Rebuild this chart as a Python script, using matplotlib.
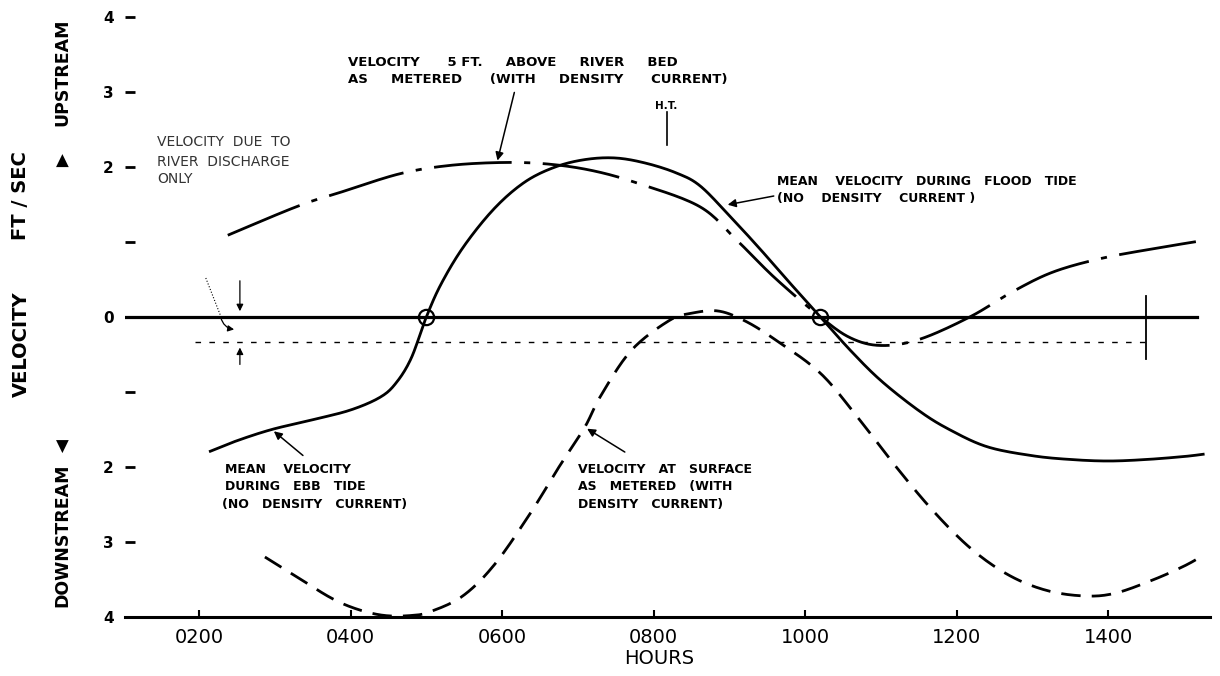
import numpy as np
import matplotlib
matplotlib.use('Agg')
import matplotlib.pyplot as plt

# hours on the x axis, velocity (ft/sec) on the y axis, + = upstream
solid_hours = [2.15, 2.5, 2.96, 3.5, 4.0, 4.39, 4.6, 4.8, 5.0, 5.2, 5.5, 5.9, 6.3,
               6.7, 7.1, 7.5, 7.9, 8.3, 8.61, 9.0, 9.4, 9.8, 10.2, 10.6, 11.0, 11.5,
               11.9, 12.4, 13.0, 13.5, 14.0, 14.5, 15.0, 15.25]
solid_vel = [-1.79, -1.65, -1.5, -1.37, -1.24, -1.07, -0.88, -0.55, 0.0, 0.45, 0.95, 1.45, 1.8,
             2.0, 2.1, 2.12, 2.05, 1.92, 1.75, 1.35, 0.91, 0.45, 0.0, -0.45, -0.85, -1.25,
             -1.5, -1.73, -1.85, -1.9, -1.92, -1.9, -1.86, -1.83]

bed_hours = [2.38, 3.31, 3.89, 4.65, 5.3, 6.0, 6.6, 7.2, 7.8, 8.61, 9.1, 9.6, 10.2,
             10.6, 11.0, 11.5, 12.17, 12.74, 13.27, 13.9, 14.59, 15.25]
bed_vel = [1.09, 1.48, 1.67, 1.91, 2.02, 2.06, 2.04, 1.95, 1.78, 1.47, 1.02, 0.52, 0.0,
           -0.28, -0.38, -0.3, 0.0, 0.34, 0.6, 0.78, 0.91, 1.02]

surf_hours = [2.87, 3.3, 3.75, 4.1, 4.45, 4.8, 5.05, 5.48, 5.9, 6.37, 6.75, 7.09, 7.29,
              7.7, 8.2, 8.5, 8.85, 9.2, 9.6, 10.2, 10.7, 11.2, 11.7, 12.2, 12.7, 13.2,
              13.7, 14.1, 14.6, 15.0, 15.25]
surf_vel = [-3.2, -3.47, -3.75, -3.9, -3.98, -3.98, -3.93, -3.72, -3.3, -2.62, -2.0, -1.47, -1.07,
            -0.45, -0.05, 0.05, 0.08, -0.05, -0.3, -0.75, -1.35, -2.0, -2.6, -3.1, -3.45, -3.65,
            -3.72, -3.68, -3.5, -3.32, -3.18]

river_only_vel = -0.33
river_only_span = [1.95, 14.5]
slack_hours = [5.0, 10.2]
high_tide_hour = 8.17

x_ticks = [2, 4, 6, 8, 10, 12, 14]
x_labels = ['0200', '0400', '0600', '0800', '1000', '1200', '1400']
y_ticks = [4, 3, 2, 1, 0, -1, -2, -3, -4]
y_labels = ['4', '3', '2', '', '0', '', '2', '3', '4']


def smooth(xs, ys, n=16):
    # catmull-rom through the read points, just for drawing
    pts = np.column_stack([xs, ys])
    p = np.vstack([pts[0], pts, pts[-1]])
    t = np.linspace(0, 1, n, endpoint=False)[:, None]
    out = []
    for i in range(1, len(p) - 2):
        p0, p1, p2, p3 = p[i - 1], p[i], p[i + 1], p[i + 2]
        out.append(0.5 * (2 * p1 + (-p0 + p2) * t + (2 * p0 - 5 * p1 + 4 * p2 - p3) * t ** 2
                          + (-p0 + 3 * p1 - 3 * p2 + p3) * t ** 3))
    out.append(pts[-1:])
    s = np.vstack(out)
    return s[:, 0], s[:, 1]


fig = plt.figure(figsize=(12.2, 6.76), dpi=100)
ax = fig.add_axes([125 / 1220, 59 / 676, 1085 / 1220, 600 / 676])
ax.set_xlim(1.024, 15.34)
ax.set_ylim(-4, 4)

for side in ['top', 'right', 'left']:
    ax.spines[side].set_visible(False)
ax.spines['bottom'].set_linewidth(2.2)

ax.set_xticks(x_ticks)
ax.set_xticklabels(x_labels, fontsize=14)
ax.set_yticks(y_ticks)
ax.set_yticklabels(y_labels, fontsize=11, fontweight='bold')
ax.tick_params(axis='x', direction='in', length=5, width=1.5, pad=8)
ax.tick_params(axis='y', direction='in', length=7, width=2, pad=8)

lw = 2.0
# zero line and the river-discharge-only line
ax.plot([1.024, 15.17], [0, 0], color='black', lw=2.3)
ax.plot(river_only_span, [river_only_vel] * 2, color='black', lw=1, dashes=[4, 6])
ax.plot([14.5, 14.5], [0.28, -0.56], color='black', lw=1.3)

x, y = smooth(solid_hours, solid_vel)
ax.plot(x, y, color='black', lw=lw)
x, y = smooth(bed_hours, bed_vel)
ax.plot(x, y, color='black', lw=lw, dashes=[28, 4.5, 2.2, 4.5])
x, y = smooth(surf_hours, surf_vel)
ax.plot(x, y, color='black', lw=lw, dashes=[7, 4])

ax.plot(slack_hours, [0, 0], 'o', ms=11, mfc='none', mec='black', mew=1.6)

# high tide mark
ax.plot([high_tide_hour, high_tide_hour], [2.73, 2.3], color='black', lw=1.2)

txt = dict(fontsize=9, fontweight='bold', va='center', ha='left')
arrow = dict(arrowstyle='-|>', color='black', lw=1.1, mutation_scale=12)

ax.text(3.97, 3.4, 'VELOCITY      5 FT.     ABOVE     RIVER     BED', fontsize=9.5,
        fontweight='bold', va='center', ha='left')
ax.text(3.97, 3.16, 'AS     METERED      (WITH     DENSITY      CURRENT)', fontsize=9.5,
        fontweight='bold', va='center', ha='left')
ax.annotate('', xy=(5.93, 2.05), xytext=(6.17, 3.03), arrowprops=arrow)
ax.text(high_tide_hour, 2.81, 'H.T.', fontsize=7.5, fontweight='bold', ha='center', va='center')

ax.text(9.63, 1.81, 'MEAN    VELOCITY   DURING   FLOOD   TIDE', **txt)
ax.text(9.63, 1.58, '(NO    DENSITY    CURRENT )', **txt)
ax.annotate('', xy=(8.94, 1.49), xytext=(9.62, 1.62), arrowprops=arrow)

ax.text(2.34, -2.03, 'MEAN    VELOCITY', **txt)
ax.text(2.34, -2.26, 'DURING   EBB   TIDE', **txt)
ax.text(2.3, -2.5, '(NO   DENSITY   CURRENT)', **txt)
ax.annotate('', xy=(2.96, -1.5), xytext=(3.4, -1.87), arrowprops=arrow)

ax.text(7.0, -2.03, 'VELOCITY   AT   SURFACE', **txt)
ax.text(7.0, -2.26, 'AS   METERED   (WITH', **txt)
ax.text(7.0, -2.5, 'DENSITY   CURRENT)', **txt)
ax.annotate('', xy=(7.09, -1.47), xytext=(7.65, -1.82), arrowprops=arrow)

small = dict(fontsize=10, va='center', ha='left', color='#333333')
ax.text(1.45, 2.33, 'VELOCITY  DUE  TO', **small)
ax.text(1.45, 2.07, 'RIVER  DISCHARGE', **small)
ax.text(1.45, 1.84, 'ONLY', **small)
ax.plot([2.09, 2.28], [0.52, 0.03], color='black', lw=0.8, ls=':')
ax.annotate('', xy=(2.5, -0.17), xytext=(2.28, 0.03),
            arrowprops=dict(arrowstyle='-|>', color='black', lw=0.9, mutation_scale=9,
                            connectionstyle='arc3,rad=0.4'))
ax.annotate('', xy=(2.54, 0.04), xytext=(2.54, 0.52),
            arrowprops=dict(arrowstyle='-|>', color='black', lw=0.9, mutation_scale=10))
ax.annotate('', xy=(2.54, -0.37), xytext=(2.54, -0.67),
            arrowprops=dict(arrowstyle='-|>', color='black', lw=0.9, mutation_scale=10))

fig.text(659 / 1220, 1 - 659 / 676, 'HOURS', fontsize=14, ha='center', va='center')

side = dict(rotation=90, fontweight='bold', ha='center', va='center')
fig.text(21 / 1220, 1 - 344 / 676, 'VELOCITY', fontsize=14, **side)
fig.text(21 / 1220, 1 - 196 / 676, 'FT / SEC', fontsize=14, **side)
fig.text(62 / 1220, 1 - 72 / 676, 'UPSTREAM', fontsize=12.5, **side)
fig.text(62 / 1220, 1 - 535 / 676, 'DOWNSTREAM', fontsize=12.5, **side)
fig.text(62 / 1220, 1 - 161 / 676, '\u25b2', fontsize=12, ha='center', va='center')
fig.text(62 / 1220, 1 - 447 / 676, '\u25bc', fontsize=12, ha='center', va='center')

fig.savefig('out.png', dpi=100)
